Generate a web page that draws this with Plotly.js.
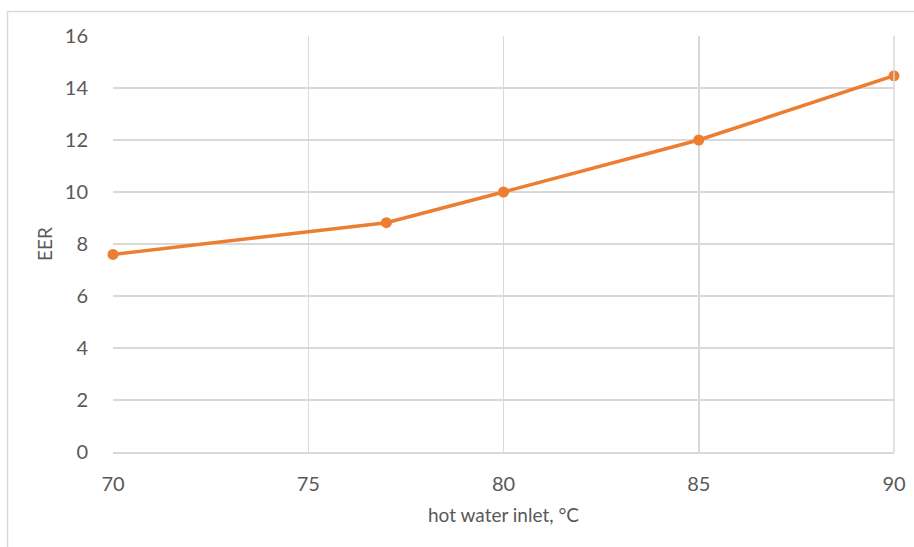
<!DOCTYPE html>
<html>
<head>
<meta charset="utf-8">
<script src="https://cdn.plot.ly/plotly-3.0.1.min.js"></script>
<style>html,body{margin:0;padding:0;background:#fff;}#chart{width:914px;height:547px;}</style>
</head>
<body>
<div id="chart"></div>
<script>
const xValues = [70, 77, 80, 85, 90];
const eerValues = [7.6, 8.82, 10.0, 12.0, 14.47];
const xTicks = [70, 75, 80, 85, 90];
const yTicks = [0, 2, 4, 6, 8, 10, 12, 14, 16];

const W = 914, H = 547;
const L = 113, R = 894, T = 36, B = 452;
const pw = R - L, ph = B - T;
const px = v => (v - L) / pw;
const py = v => (B - v) / ph;

const trace = {
  x: xValues, y: eerValues, type: 'scatter', mode: 'lines+markers',
  line: {color: '#ED7D31', width: 3.5},
  marker: {color: '#ED7D31', size: 11},
  cliponaxis: false,
  hoverinfo: 'skip', showlegend: false
};

const FF = 'Lato, Open Sans, Liberation Sans, sans-serif';
const layout = {
  width: W, height: H,
  margin: {l: L, r: W - R, t: T, b: H - B, pad: 0},
  paper_bgcolor: '#fff', plot_bgcolor: '#fff',
  font: {family: FF, color: '#595959'},
  xaxis: {
    range: [70, 90], tickvals: xTicks, ticktext: xTicks.map(String),
    showgrid: true, gridcolor: '#D9D9D9', gridwidth: 1.5,
    zeroline: false, showline: true, linecolor: '#D9D9D9', linewidth: 1.5, mirror: false,
    ticks: 'outside', ticklen: 13, tickcolor: 'rgba(0,0,0,0)',
    tickfont: {family: FF, size: 20, color: '#595959'},
    title: {text: 'hot water inlet, °C', font: {family: FF, size: 19, color: '#595959'}, standoff: 15},
    automargin: false
  },
  yaxis: {
    range: [0, 16], tickvals: yTicks, ticktext: yTicks.map(String),
    showgrid: true, gridcolor: '#D9D9D9', gridwidth: 1.5,
    zeroline: false, showline: false,
    ticks: 'outside', ticklen: 20, tickcolor: 'rgba(0,0,0,0)',
    tickfont: {family: FF, size: 20, color: '#595959'},
    title: {text: 'EER', font: {family: FF, size: 19, color: '#595959'}, standoff: 7},
    automargin: false
  },
  shapes: [
    {type: 'line', xref: 'paper', yref: 'paper', x0: px(7.5), x1: px(W + 5), y0: py(11.5), y1: py(11.5), line: {color: '#D9D9D9', width: 1.5}},
    {type: 'line', xref: 'paper', yref: 'paper', x0: px(7.5), x1: px(7.5), y0: py(11.5), y1: py(H + 5), line: {color: '#D9D9D9', width: 1.5}},
    {type: 'line', xref: 'paper', yref: 'paper', x0: 1, x1: 1, y0: 0, y1: 1, line: {color: '#D9D9D9', width: 1.5}}
  ]
};

Plotly.newPlot('chart', [trace], layout, {staticPlot: true, displayModeBar: false});
</script>
</body>
</html>
